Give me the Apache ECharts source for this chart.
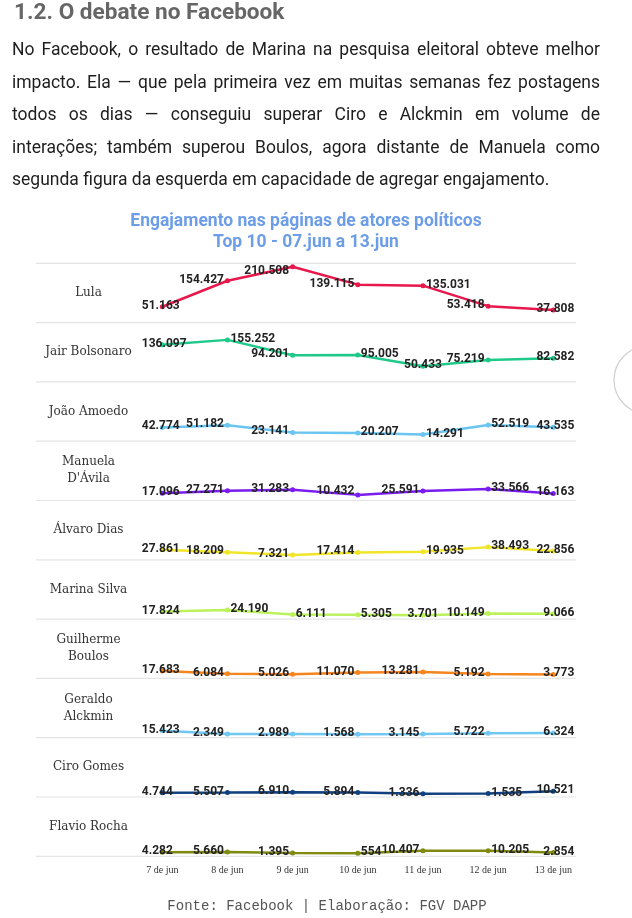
<!DOCTYPE html>
<html lang="pt-BR">
<head>
<meta charset="utf-8">
<title>Engajamento nas páginas de atores políticos</title>
<script src="https://cdn.jsdelivr.net/npm/echarts/dist/echarts.min.js"></script>
<style>
  html, body { margin: 0; padding: 0; background: #fff; width: 632px; height: 918px; overflow: hidden; }
  #chart { position: absolute; left: 0; top: 0; width: 632px; height: 918px; }
  h2 { position: absolute; left: 14px; top: -1px; margin: 0; font: bold 22.6px/26px Roboto, sans-serif; color: #666; z-index: 2; white-space: nowrap; }
  p { position: absolute; left: 12px; top: 33px; width: 588px; margin: 0; font: 17.5px/32.5px Roboto, sans-serif; color: #1e1e1e; text-align: justify; z-index: 2; }
</style>
</head>
<body>
<div id="chart"></div>
<h2>1.2. O debate no Facebook</h2>
<p>No Facebook, o resultado de Marina na pesquisa eleitoral obteve melhor impacto. Ela — que pela primeira vez em muitas semanas fez postagens todos os dias — conseguiu superar Ciro e Alckmin em volume de interações; também superou Boulos, agora distante de Manuela como segunda figura da esquerda em capacidade de agregar engajamento.</p>
<script>
// ---------- DATA ----------
const days = ['7 de jun', '8 de jun', '9 de jun', '10 de jun', '11 de jun', '12 de jun', '13 de jun'];
const actors = ['Lula', 'Jair Bolsonaro', 'João Amoedo', "Manuela\nD'Ávila", 'Álvaro Dias', 'Marina Silva', 'Guilherme\nBoulos', 'Geraldo\nAlckmin', 'Ciro Gomes', 'Flavio Rocha'];
const lula      = [51163, 154427, 210508, 139115, 135031, 53418, 37808];
const bolsonaro = [136097, 155252, 94201, 95005, 50433, 75219, 82582];
const amoedo    = [42774, 51182, 23141, 20207, 14291, 52519, 43535];
const manuela   = [17096, 27271, 31283, 10432, 25591, 33566, 16163];
const alvaro    = [27861, 18209, 7321, 17414, 19935, 38493, 22856];
const marina    = [17824, 24190, 6111, 5305, 3701, 10149, 9066];
const boulos    = [17683, 6084, 5026, 11070, 13281, 5192, 3773];
const alckmin   = [15423, 2349, 2989, 1568, 3145, 5722, 6324];
const ciro      = [4744, 5507, 6910, 5894, 1336, 1535, 10521];
const flavio    = [4282, 5660, 1395, 554, 10407, 10205, 2854];
const chartTitle = 'Engajamento nas páginas de atores políticos\nTop 10 - 07.jun a 13.jun';
const sourceText = 'Fonte: Facebook | Elaboração: FGV DAPP';

const values = [lula, bolsonaro, amoedo, manuela, alvaro, marina, boulos, alckmin, ciro, flavio];

// ---------- STYLE ----------
const colors = ['#e8174c', '#1fc98a', '#6ac5f1', '#7a1cf0', '#f1e52a', '#bbf25c', '#f5851f', '#70c7f1', '#10407f', '#7f8a10'];
// label placement per point: F first, E end, L left, R right, C centered; optional vertical shift after ':'
const labelPlacement = [
  ['F', 'L', 'L:5', 'L', 'R', 'L', 'E'],
  ['F', 'R', 'L', 'R', 'C', 'L', 'E'],
  ['F', 'L', 'L', 'R', 'R', 'R', 'E'],
  ['F', 'L', 'L', 'L:-3', 'L', 'R', 'E'],
  ['F', 'L', 'L', 'L', 'R', 'R', 'E'],
  ['F', 'R', 'R', 'R', 'C', 'L', 'E'],
  ['F', 'L', 'L', 'L', 'L', 'L', 'E'],
  ['F', 'L', 'L', 'L', 'L', 'L', 'E'],
  ['F', 'L', 'L', 'L', 'L', 'R', 'E'],
  ['F', 'L', 'L', 'R', 'L', 'R', 'E']
];

const ROW_TOP = 263.3, ROW_H = 59.3;
const PLOT_LEFT = 162.3, PLOT_RIGHT = 553.3;
const LABEL_MIN_X = 141.8, LABEL_MAX_X = 574.3;

function fmt(n) { return String(n).replace(/\B(?=(\d{3})+(?!\d))/g, '.'); }

function labelFor(code) {
  const parts = code.split(':');
  const kind = parts[0];
  const dy = -1 + (parts[1] ? parseFloat(parts[1]) : 0);
  let align = 'center', dx = 0;
  if (kind === 'F') { align = 'left'; dx = LABEL_MIN_X - PLOT_LEFT; }
  else if (kind === 'E') { align = 'right'; dx = LABEL_MAX_X - PLOT_RIGHT; }
  else if (kind === 'L') { align = 'right'; dx = -3.5; }
  else if (kind === 'R') { align = 'left'; dx = 3; }
  return { position: 'inside', align: align, verticalAlign: 'middle', offset: [dx, dy] };
}

const grids = [], xAxes = [], yAxes = [], series = [], graphics = [];
for (let i = 0; i < values.length; i++) {
  const top = ROW_TOP + i * ROW_H;
  grids.push({ left: PLOT_LEFT, width: PLOT_RIGHT - PLOT_LEFT, top: top + 1, height: ROW_H - 4 });
  xAxes.push({
    type: 'category', gridIndex: i, data: days, boundaryGap: false,
    axisLine: { show: false }, axisTick: { show: false }, splitLine: { show: false },
    axisLabel: { show: i === values.length - 1, margin: 12, fontFamily: 'Liberation Serif', fontSize: 10, color: '#333' }
  });
  yAxes.push({ type: 'value', gridIndex: i, min: 0, max: 220000, show: false, splitLine: { show: false } });
  series.push({
    type: 'line', name: actors[i].replace('\n', ' '), xAxisIndex: i, yAxisIndex: i,
    data: values[i].map((v, j) => ({ value: v, label: labelFor(labelPlacement[i][j]) })),
    symbol: 'circle', symbolSize: 5, showSymbol: true,
    lineStyle: { color: colors[i], width: 2.5 },
    itemStyle: { color: colors[i] },
    label: {
      show: true, formatter: p => fmt(p.value),
      fontFamily: 'Roboto', fontWeight: 'bold', fontSize: 12, color: '#222'
    },
    emphasis: { disabled: true },
    silent: true, clip: false, z: 3
  });
  // row label
  graphics.push({
    type: 'text', x: 88.5, y: top + ROW_H / 2, z: 5,
    style: { text: actors[i], align: 'center', verticalAlign: 'middle', lineHeight: 17,
      fontFamily: 'DejaVu Serif', fontSize: 12, fill: '#333' }
  });
}
// separators
for (let k = 0; k <= values.length; k++) {
  const y = ROW_TOP + k * ROW_H;
  graphics.push({ type: 'line', z: 1, shape: { x1: 36, y1: y, x2: 576, y2: y }, style: { stroke: '#e4e4e4', lineWidth: 1.2 } });
}
// chart title
graphics.push({
  type: 'text', x: 306, y: 232.5, z: 5,
  style: { text: chartTitle, align: 'center', verticalAlign: 'middle', lineHeight: 21,
    fontFamily: 'Roboto', fontWeight: 'bold', fontSize: 17.5, fill: '#6d9de6' }
});
// source
graphics.push({
  type: 'text', x: 327, y: 906, z: 5,
  style: { text: sourceText, align: 'center', verticalAlign: 'middle',
    fontFamily: 'Liberation Mono', fontSize: 14, fill: '#555' }
});
// page scroll handle at right edge
graphics.push({ type: 'circle', z: 6, shape: { cx: 648, cy: 380, r: 34 }, style: { fill: '#fff', stroke: '#cfcfcf', lineWidth: 1.2 } });

const chart = echarts.init(document.getElementById('chart'), null, { renderer: 'canvas' });
chart.setOption({
  animation: false,
  backgroundColor: 'transparent',
  grid: grids, xAxis: xAxes, yAxis: yAxes, series: series,
  graphic: graphics
});
</script>
</body>
</html>
